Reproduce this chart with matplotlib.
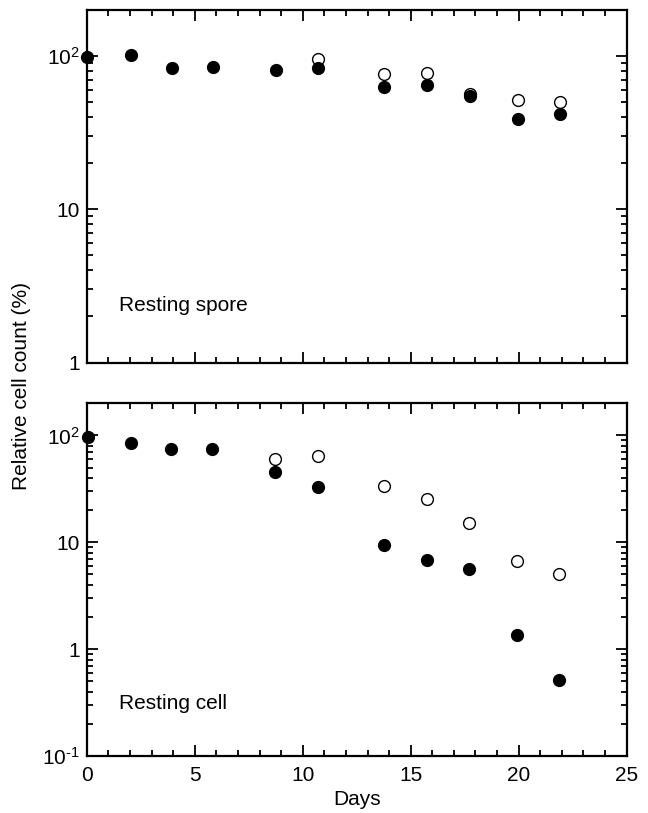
import matplotlib
matplotlib.use("Agg")
import matplotlib.pyplot as plt
from matplotlib.ticker import FixedLocator, LogLocator, MultipleLocator, FixedFormatter

plt.rcParams['font.family'] = ['Liberation Sans', 'DejaVu Sans']
plt.rcParams['mathtext.fontset'] = 'custom'
plt.rcParams['mathtext.rm'] = 'Liberation Sans'
plt.rcParams['mathtext.it'] = 'Liberation Sans'

# Resting spore (top panel)
spore_days = [0, 2.05, 3.95, 5.85, 8.75, 10.7, 13.75, 15.75, 17.75, 19.95, 21.9]
spore_filled = [98.5, 101, 83.5, 84.8, 81.5, 83.5, 62.5, 64.4, 54.6, 39, 42]
spore_open_days = [10.7, 13.75, 15.75, 17.75, 19.95, 21.9]
spore_open = [96, 75.9, 77.8, 56.8, 51.4, 50.4]

# Resting cell (bottom panel)
cell_days = [0.05, 2.05, 3.9, 5.8, 8.7, 10.7, 13.75, 15.75, 17.7, 19.9, 21.85]
cell_filled = [96, 84.8, 75.2, 74.6, 45.8, 32.7, 9.4, 6.9, 5.6, 1.37, 0.51]
cell_open_days = [8.7, 10.7, 13.75, 15.75, 17.7, 19.9, 21.85]
cell_open = [60.6, 63.7, 34, 25.3, 15.0, 6.7, 5.1]

fig = plt.figure(figsize=(6.48, 8.13), dpi=100)
ax1 = fig.add_axes([0.134, 0.554, 0.833, 0.434])
ax2 = fig.add_axes([0.134, 0.070, 0.833, 0.434])

FS = 15


def style(ax, ylim, ticks, labels):
    ax.set_yscale('log')
    ax.set_xlim(0, 25)
    ax.set_ylim(*ylim)
    ax.xaxis.set_major_locator(MultipleLocator(5))
    ax.xaxis.set_minor_locator(MultipleLocator(1))
    ax.yaxis.set_major_locator(FixedLocator(ticks))
    ax.yaxis.set_major_formatter(FixedFormatter(labels))
    ax.yaxis.set_minor_locator(LogLocator(base=10, subs=range(2, 10)))
    ax.yaxis.set_minor_formatter(plt.NullFormatter())
    ax.tick_params(which='both', direction='in', top=True, right=True, width=1.3)
    ax.tick_params(which='major', length=8, labelsize=FS, pad=5)
    ax.tick_params(axis='x', which='major', pad=7)
    ax.tick_params(which='minor', length=4)
    for s in ax.spines.values():
        s.set_linewidth(1.6)


style(ax1, (1, 200), [1, 10, 100], ['1', '10', '$10^2$'])
style(ax2, (0.1, 200), [0.1, 1, 10, 100], ['10$^{\\text{-}1}$', '1', '10', '$10^2$'])
ax1.tick_params(axis='x', labelbottom=False)

for ax, d, f, od, o in [(ax1, spore_days, spore_filled, spore_open_days, spore_open),
                        (ax2, cell_days, cell_filled, cell_open_days, cell_open)]:
    ax.plot(od, o, 'o', mfc='white', mec='black', mew=1.0, ms=8.5, clip_on=False, zorder=3)
    ax.plot(d, f, 'o', color='black', ms=8.5, clip_on=False, zorder=4)

ax1.text(1.5, 2.35, 'Resting spore', fontsize=FS, va='center', ha='left')
ax2.text(1.5, 0.31, 'Resting cell', fontsize=FS, va='center', ha='left')

ax2.set_xlabel('Days', fontsize=FS, labelpad=4)
fig.text(0.033, 0.525, 'Relative cell count (%)', rotation=90, fontsize=FS,
         va='center', ha='center')

fig.savefig('out.png', dpi=100)
